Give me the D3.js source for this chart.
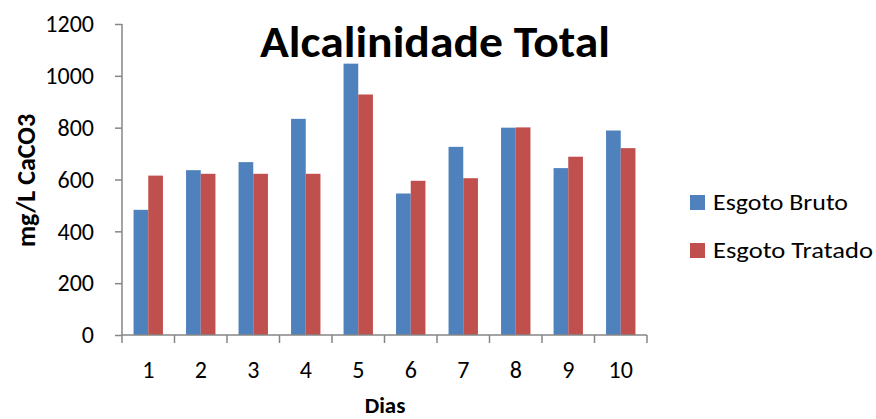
<!DOCTYPE html>
<html>
<head>
<meta charset="utf-8">
<script src="https://cdn.jsdelivr.net/npm/d3@7"></script>
<style>
  html, body { margin: 0; padding: 0; background: #fff; }
  svg { display: block; font-family: Carlito, Lato, "Open Sans", sans-serif; }
</style>
</head>
<body>
<svg id="chart" width="876" height="419"></svg>
<script>
// Total alkalinity per day (mg/L CaCO3)
const dias = ["1", "2", "3", "4", "5", "6", "7", "8", "9", "10"];
const series = ["Esgoto Bruto", "Esgoto Tratado"];
const esgotoBruto   = [483, 636, 667, 834, 1047, 546, 726, 800, 644, 789];
const esgotoTratado = [615, 622, 622, 622, 928, 595, 605, 801, 688, 721];
const yTicks = [0, 200, 400, 600, 800, 1000, 1200];
const colors = ["#4F81BD", "#C0504D"];

const svg = d3.select("#chart");
const axisColor = "#868686";

const plot = { left: 122, right: 647, top: 24, bottom: 335 };

const x = d3.scaleBand().domain(dias).range([plot.left, plot.right]).padding(0);
const bw = x.bandwidth();
const groupW = bw * 0.56;
const x1 = d3.scaleBand().domain(series)
  .range([(bw - groupW) / 2, (bw + groupW) / 2]).padding(0);
const y = d3.scaleLinear().domain([0, 1200]).range([plot.bottom, plot.top]);

const rows = dias.map((d, i) => ({ dia: d, values: [esgotoBruto[i], esgotoTratado[i]] }));

// Bars
const groups = svg.append("g").selectAll("g").data(rows).join("g")
  .attr("transform", d => `translate(${x(d.dia)},0)`);
groups.selectAll("rect")
  .data(d => d.values.map((v, k) => ({ key: series[k], value: v, k })))
  .join("rect")
  .attr("x", d => x1(d.key))
  .attr("width", x1.bandwidth())
  .attr("y", d => y(d.value))
  .attr("height", d => y(0) - y(d.value))
  .attr("fill", d => colors[d.k]);

// Y axis
const yAxis = svg.append("g")
  .attr("transform", `translate(${plot.left},0)`)
  .call(d3.axisLeft(y).tickValues(yTicks).tickSize(7).tickPadding(21).tickFormat(d3.format("d")));
yAxis.select(".domain").attr("stroke", axisColor).attr("stroke-width", 1.5)
  .attr("d", `M0,${plot.top}V${plot.bottom}`);
yAxis.selectAll(".tick line").attr("stroke", axisColor).attr("stroke-width", 1.5);
yAxis.selectAll(".tick text").attr("font-size", 24).attr("fill", "#000")
  .attr("font-family", "Carlito, Lato, sans-serif");

// X axis with ticks on category boundaries
const xAxisG = svg.append("g").attr("transform", `translate(0,${plot.bottom})`);
xAxisG.append("line").attr("x1", plot.left).attr("x2", plot.right)
  .attr("stroke", axisColor).attr("stroke-width", 1.5);
const bounds = dias.map(d => x(d)).concat([plot.right]);
xAxisG.selectAll("line.tk").data(bounds).join("line").attr("class", "tk")
  .attr("x1", d => d).attr("x2", d => d).attr("y1", 0).attr("y2", 8)
  .attr("stroke", axisColor).attr("stroke-width", 1.5);
xAxisG.selectAll("text").data(dias).join("text")
  .attr("x", d => x(d) + bw / 2).attr("y", 43)
  .attr("text-anchor", "middle").attr("font-size", 24).attr("fill", "#000")
  .text(d => d);

// Title
svg.append("text").attr("x", 435).attr("y", 57)
  .attr("text-anchor", "middle").attr("font-size", 45).attr("font-weight", "bold")
  .attr("textLength", 350).attr("lengthAdjust", "spacingAndGlyphs")
  .attr("fill", "#000").text("Alcalinidade Total");

// Axis titles
svg.append("text").attr("x", 385).attr("y", 413)
  .attr("text-anchor", "middle").attr("font-size", 23).attr("font-weight", "bold")
  .text("Dias");
svg.append("text").attr("transform", "translate(35,180.5) rotate(-90)")
  .attr("text-anchor", "middle").attr("font-size", 26).attr("font-weight", "bold")
  .text("mg/L CaCO3");

// Legend
const legendWidths = [135, 160];
const legend = svg.append("g").selectAll("g").data(series).join("g")
  .attr("transform", (d, i) => `translate(690,${195 + i * 48})`);
legend.append("rect").attr("width", 15).attr("height", 15)
  .attr("fill", (d, i) => colors[i]);
legend.append("text").attr("x", 23).attr("y", 15)
  .attr("font-size", 22).attr("fill", "#000")
  .attr("textLength", (d, i) => legendWidths[i]).attr("lengthAdjust", "spacingAndGlyphs")
  .text(d => d);
</script>
</body>
</html>
